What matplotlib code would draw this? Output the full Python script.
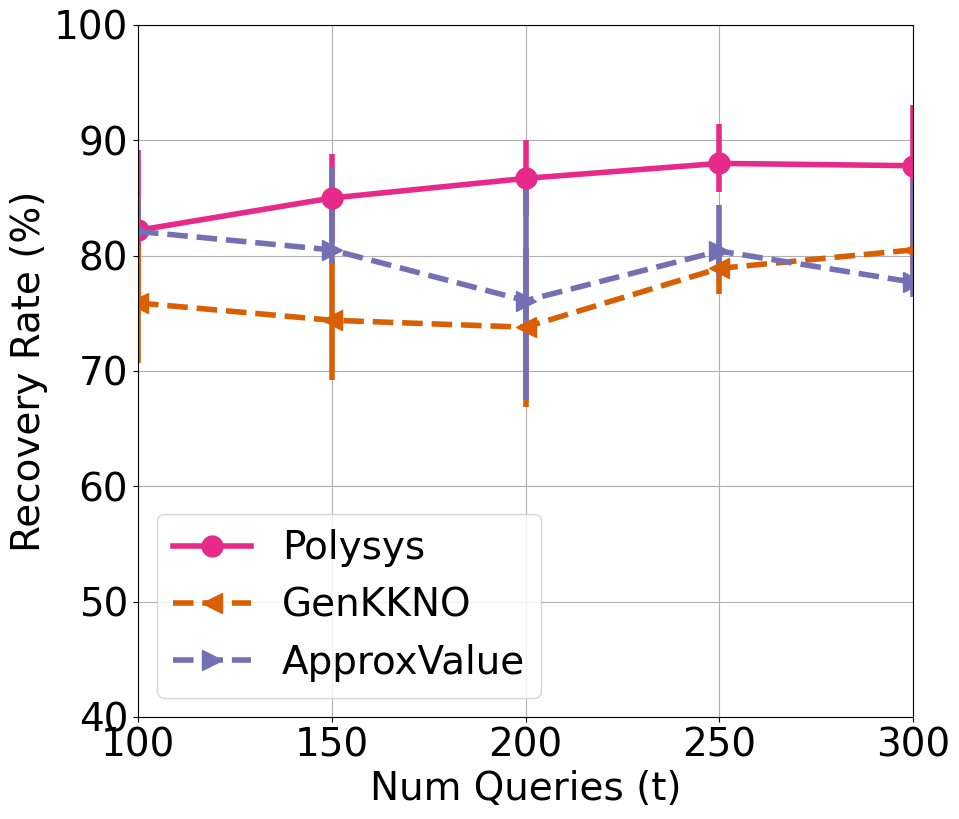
import matplotlib
matplotlib.use("Agg")
import matplotlib.pyplot as plt
import numpy as np

queries = [100, 150, 200, 250, 300]

polysys = [82.2, 85.0, 86.7, 88.0, 87.8]
polysys_lo = [7.0, 3.8, 3.3, 2.5, 5.3]
polysys_hi = [7.0, 3.8, 3.3, 3.4, 5.3]

genkkno = [75.9, 74.4, 73.8, 78.9, 80.5]
genkkno_lo = [5.2, 5.2, 6.9, 2.2, 2.0]
genkkno_hi = [5.2, 5.2, 6.9, 2.2, 2.0]

approx = [82.1, 80.5, 76.1, 80.4, 77.7]
approx_lo = [0.8, 1.2, 8.6, 2.2, 1.3]
approx_hi = [3.0, 7.2, 10.6, 4.0, 8.7]

fig = plt.figure(figsize=(9.59, 8.19), dpi=100)
ax = fig.add_axes([138/959, 1 - 717/819, (913-138)/959, (717-25)/819])

c1 = ax.errorbar(queries, polysys, yerr=[polysys_lo, polysys_hi], color="#e7298a",
                 linestyle="-", marker="o", lw=4, markersize=15, elinewidth=4,
                 label="Polysys")
c2 = ax.errorbar(queries, genkkno, yerr=[genkkno_lo, genkkno_hi], color="#d95f02",
                 linestyle="--", marker="<", lw=4, markersize=15, elinewidth=4,
                 label="GenKKNO")
c3 = ax.errorbar(queries, approx, yerr=[approx_lo, approx_hi], color="#7570b3",
                 linestyle="--", marker=">", lw=4, markersize=15, elinewidth=4,
                 label="ApproxValue")

ax.set_xlim(100, 300)
ax.set_ylim(40, 100)
ax.set_xticks(queries)
ax.set_yticks([40, 50, 60, 70, 80, 90, 100])
ax.tick_params(labelsize=28)
ax.grid(True, color="#b0b0b0")
ax.set_xlabel("Num Queries (t)", fontsize=28)
ax.set_ylabel("Recovery Rate (%)", fontsize=28)
ax.legend([c1.lines[0], c2.lines[0], c3.lines[0]],
          ["Polysys", "GenKKNO", "ApproxValue"],
          loc="lower left", fontsize=28)

fig.savefig("out.png", dpi=100)
